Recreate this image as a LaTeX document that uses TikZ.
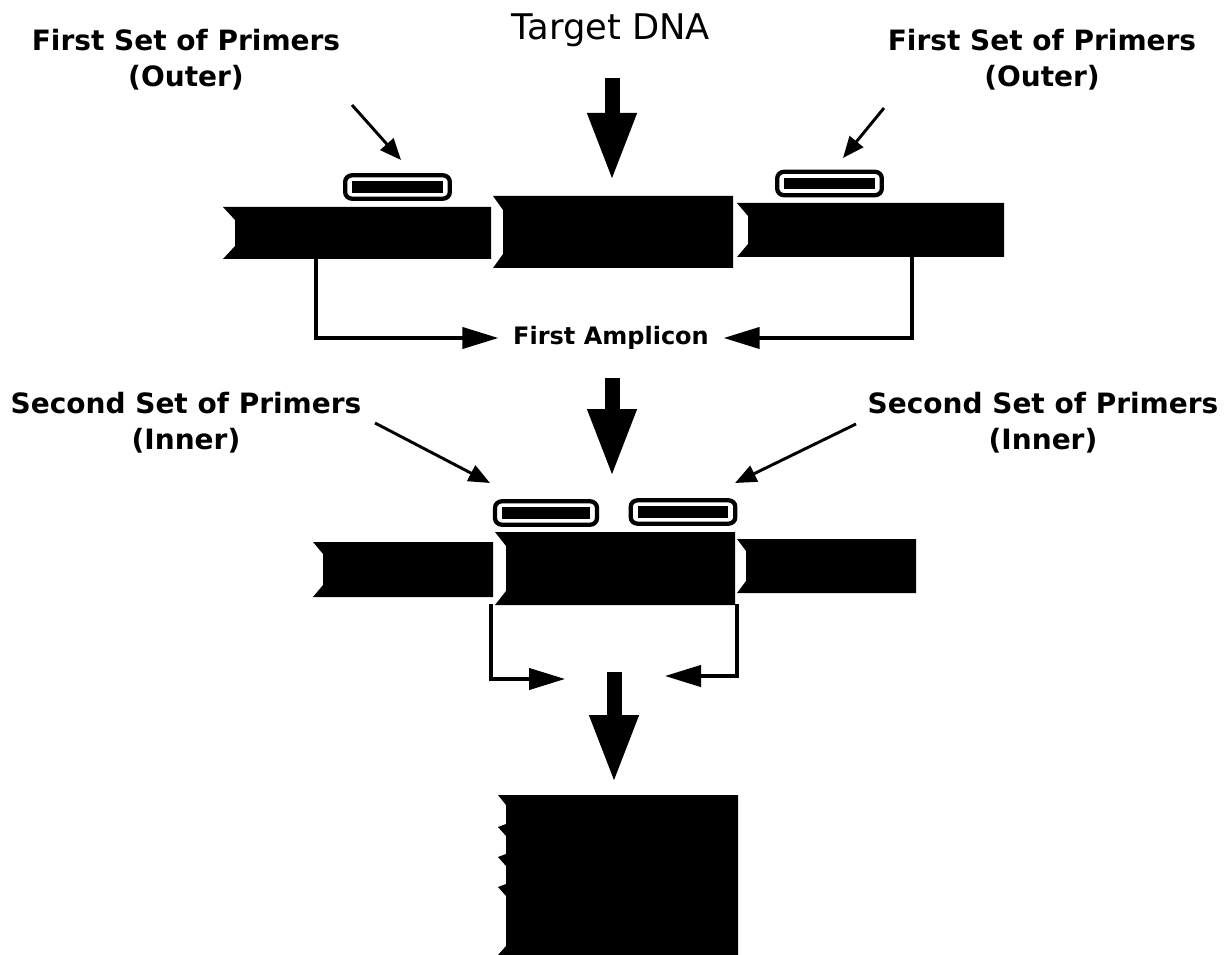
\documentclass[tikz,border=0pt]{standalone}
\usepackage{fontspec}
\newfontfamily\labfont{DejaVu Sans}
\usetikzlibrary{arrows.meta}
\tikzset{
  lab/.style={font=\labfont\bfseries\fontsize{21}{27}\selectfont, align=center, inner sep=0pt},
  dnabar/.style={fill=black},
  primer/.style={draw, line width=3.2pt, rounded corners=5pt, fill=white,
    minimum width=78.5pt, minimum height=17.5pt, inner sep=0pt,
    path picture={\fill[black, sharp corners] ([xshift=5.2pt,yshift=4.4pt]path picture bounding box.south west)
      rectangle ([xshift=-5.2pt,yshift=-4.4pt]path picture bounding box.north east);}},
  pointer/.style={line width=2.2pt, -{Triangle[length=16pt,width=13pt]}},
  amparrow/.style={line width=2.4pt, -{Triangle[length=27pt,width=16pt]}},
  bigarrow/.style={line width=11.25pt, -{Triangle[length=51pt,width=34pt]}}
}
\begin{document}
\begin{tikzpicture}[x=0.75pt,y=-0.75pt]
\useasboundingbox (0,0) rectangle (1231,955);
\fill[white] (0,0) rectangle (1231,955);

% ---------- labels ----------
\node[font=\labfont\fontsize{26.5}{30}\selectfont, inner sep=0pt] (tgt) at (611,30) {Target DNA};
\node[lab] (lo1) at (186,60) {First Set of Primers\\(Outer)};
\node[lab] (ro1) at (1042,60) {First Set of Primers\\(Outer)};
\node[lab] (li2) at (186,423) {Second Set of Primers\\(Inner)};
\node[lab] (ri2) at (1043,423) {Second Set of Primers\\(Inner)};
\node[font=\labfont\bfseries\fontsize{18}{22}\selectfont, inner xsep=11pt, inner ysep=0pt] (amp) at (611,338) {First Amplicon};

% ---------- top row DNA ----------
\fill[dnabar] (223,207) -- (491,207) -- (491,259) -- (223,259) -- (235,246) -- (235,220) -- cycle;
\fill[dnabar] (493,196) -- (733,196) -- (733,268) -- (493,268) -- (503,254) -- (503,210) -- cycle;
\fill[dnabar] (737,203) -- (1004,203) -- (1004,257) -- (737,257) -- (748,244) -- (748,216) -- cycle;
\node[primer] (p1) at (397.5,187) {};
\node[primer] (p2) at (829.5,183.5) {};

% ---------- second row DNA ----------
\fill[dnabar] (313,542) -- (493,542) -- (493,597) -- (313,597) -- (323,585) -- (323,554) -- cycle;
\fill[dnabar] (495,532) -- (735,532) -- (735,605) -- (495,605) -- (506,591) -- (506,546) -- cycle;
\fill[dnabar] (737,539) -- (916,539) -- (916,593) -- (737,593) -- (746,581) -- (746,551) -- cycle;
\node[primer, minimum width=76.5pt] (p3) at (546,513) {};
\node[primer] (p4) at (683,512) {};

% ---------- final product ----------
\fill[dnabar] (738,795) -- (498,795) -- (506,805) -- (506,824) -- (498,827) -- (506,836) -- (506,854)
  -- (498,857) -- (506,866) -- (506,884) -- (498,887) -- (506,896) -- (506,946) -- (498,955)
  -- (738,955) -- cycle;

% ---------- coordinates ----------
\coordinate (a1s) at (612,78);  \coordinate (a1e) at (612,181);
\coordinate (a2s) at (612,378); \coordinate (a2e) at (612,477);
\coordinate (a3s) at (614,672); \coordinate (a3e) at (614,783);
\coordinate (l1b) at (316,258); \coordinate (r1b) at (912,256);
\coordinate (l2b) at (491,604); \coordinate (r2b) at (737,604);
\coordinate (l2t) at (565,679); \coordinate (r2t) at (665,676);
\coordinate (plo) at (352,105); \coordinate (tlo) at (401,160);
\coordinate (pro) at (884,108); \coordinate (tro) at (843,158);
\coordinate (pli) at (375,423); \coordinate (tli) at (490,483);
\coordinate (pri) at (856,424); \coordinate (tri) at (735,483);

% ---------- arrows ----------
\draw[bigarrow] (a1s) -- (a1e);
\draw[bigarrow] (a2s) -- (a2e);
\draw[bigarrow] (a3s) -- (a3e);

\draw[amparrow] (l1b) |- (amp.west);
\draw[amparrow] (r1b) |- (amp.east);
\draw[amparrow] (l2b) |- (l2t);
\draw[amparrow] (r2b) |- (r2t);

\draw[pointer] (plo) -- (tlo);
\draw[pointer] (pro) -- (tro);
\draw[pointer] (pli) -- (tli);
\draw[pointer] (pri) -- (tri);
\end{tikzpicture}
\end{document}
